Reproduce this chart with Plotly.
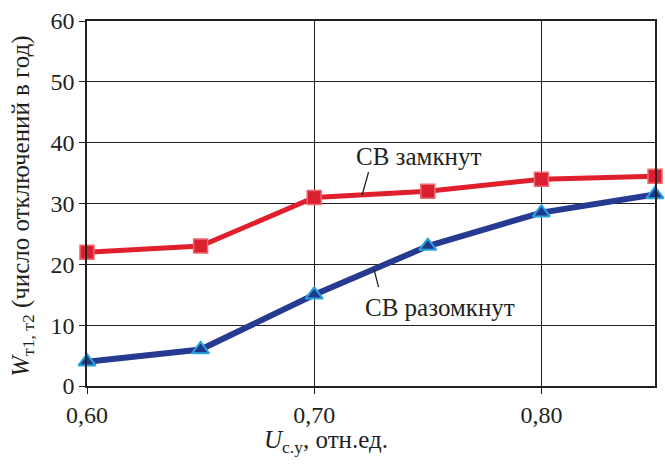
import plotly.graph_objects as go

x_vals = [0.60, 0.65, 0.70, 0.75, 0.80, 0.85]
closed_vals = [22, 23, 31, 32, 34, 34.5]
open_vals = [4, 6, 15, 23, 28.5, 31.5]
x_ticks = [0.60, 0.70, 0.80]
y_ticks = [0, 10, 20, 30, 40, 50, 60]

FONT = "'Liberation Serif', 'DejaVu Serif', serif"
INK = "#231f20"

fig = go.Figure()
fig.add_trace(go.Scatter(
    x=x_vals, y=closed_vals, mode="lines+markers",
    line=dict(color="#e01f2d", width=5),
    marker=dict(symbol="square", size=14, color="#dc1f2e",
                line=dict(color="#ee6a70", width=1.5)),
    showlegend=False, cliponaxis=False))
fig.add_trace(go.Scatter(
    x=x_vals, y=open_vals, mode="lines+markers",
    line=dict(color="#253a90", width=6),
    marker=dict(symbol="triangle-up", size=15, color="#1f3a8c",
                line=dict(color="#2aa3dc", width=2)),
    showlegend=False, cliponaxis=False))

fig.add_annotation(x=0.746, y=37.8, text="СВ замкнут", showarrow=False,
                   font=dict(family=FONT, size=25, color=INK))
fig.add_annotation(x=0.7555, y=12.9, text="СВ разомкнут", showarrow=False,
                   font=dict(family=FONT, size=25, color=INK))
fig.add_annotation(x=0.7211, y=31.4, ax=0.7241, ay=35.4, axref="x", ayref="y",
                   text="", showarrow=True, arrowhead=0, arrowwidth=1.3,
                   arrowcolor=INK)
fig.add_annotation(x=0.7263, y=19.2, ax=0.7285, ay=16.0, axref="x", ayref="y",
                   text="", showarrow=True, arrowhead=0, arrowwidth=1.3,
                   arrowcolor=INK)

fig.add_annotation(xref="paper", yref="paper", x=(22 - 87) / 570, y=(386 - 205) / 368,
                   xanchor="center", yanchor="middle", textangle=-90, showarrow=False,
                   text="<i>W</i><sub>т1, т2</sub> (число отключений в год)",
                   font=dict(family=FONT, size=25, color=INK))
fig.add_annotation(xref="paper", yref="paper", x=(327 - 87) / 570, y=-(442 - 386) / 368,
                   xanchor="center", yanchor="middle", showarrow=False,
                   text="<i>U</i><sub>с.у</sub>, отн.ед.",
                   font=dict(family=FONT, size=25, color=INK))

fig.update_layout(
    width=665, height=466,
    margin=dict(l=87, r=8, t=18, b=80),
    paper_bgcolor="white", plot_bgcolor="white",
    separators=", ",
    font=dict(family=FONT, size=24, color=INK),
    xaxis=dict(range=[0.60, 0.85], tickvals=x_ticks, tickformat=".2f",
               showgrid=True, gridcolor=INK, gridwidth=1,
               showline=True, linecolor=INK, linewidth=1.5, mirror=True,
               ticks="outside", ticklen=6, tickcolor=INK, zeroline=False),
    yaxis=dict(range=[0, 60], tickvals=y_ticks,
               showgrid=True, gridcolor=INK, gridwidth=1,
               showline=True, linecolor=INK, linewidth=1.5, mirror=True,
               ticks="outside", ticklen=6, tickcolor=INK, zeroline=False),
)

fig.write_html("out.html", config={"displayModeBar": False},
               post_script="document.body.style.margin='0';")
